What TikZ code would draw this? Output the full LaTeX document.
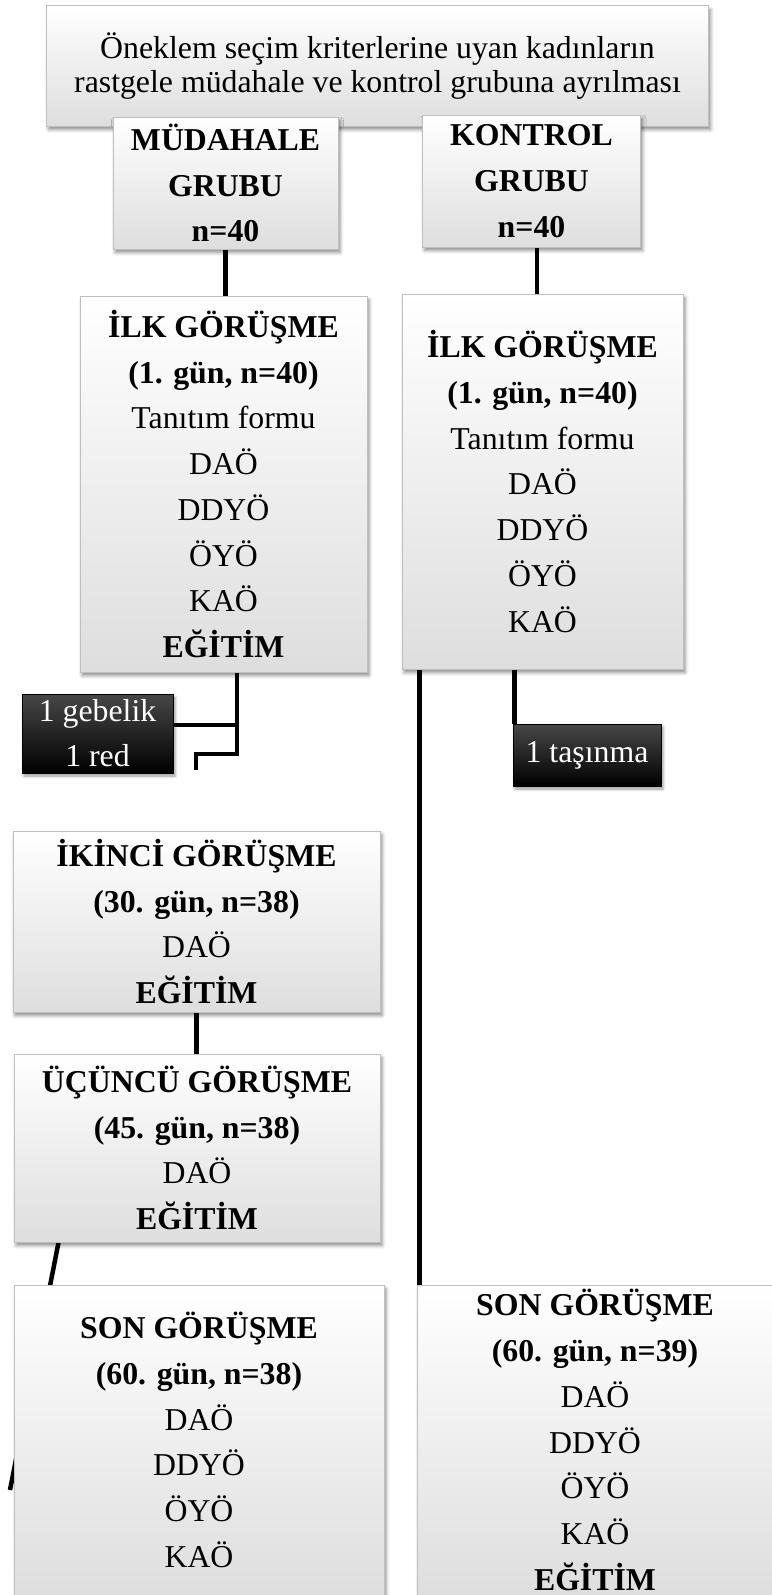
\documentclass[tikz,border=0pt]{standalone}
\usepackage{fontspec}
\setmainfont{Liberation Serif}
\usetikzlibrary{shadows.blur,backgrounds}

\tikzset{
  panel/.style={draw=gray!50, line width=1pt, top color=white, bottom color=gray!26,
    inner sep=0pt, align=center, font=\fontsize{31.8}{45.7}\selectfont,
    blur shadow={shadow xshift=2pt, shadow yshift=-3.5pt, shadow blur radius=3.5pt, shadow opacity=45}},
  darkbox/.style={draw=black, line width=0.6pt, top color=black!72, bottom color=black,
    text=white, inner sep=0pt, align=center, font=\fontsize{31.8}{45}\selectfont,
    blur shadow={shadow xshift=2pt, shadow yshift=-3pt, shadow blur radius=3pt, shadow opacity=40}},
  conn/.style={line width=4.5pt, black, line join=miter}
}

\begin{document}
\begin{tikzpicture}[x=1pt, y=-1pt]
\useasboundingbox (0,0) rectangle (771,1595);

% randomisation box and the two groups
\node[panel, minimum width=662pt, minimum height=120pt, font=\fontsize{31.8}{34}\selectfont]
  (top) at (377.5,66) {Öneklem seçim kriterlerine uyan kadınların\\rastgele müdahale ve kontrol grubuna ayrılması};
\node[panel, minimum width=225pt, minimum height=132pt] (mud) at (225.5,183)
  {\textbf{MÜDAHALE}\\\textbf{GRUBU}\\\textbf{n=40}};
\node[panel, minimum width=218pt, minimum height=132pt] (kon) at (531.5,181)
  {\textbf{KONTROL}\\\textbf{GRUBU}\\\textbf{n=40}};

% first interviews
\node[panel, minimum width=287pt, minimum height=376pt] (ilkL) at (223.5,484)
  {\textbf{İLK GÖRÜŞME}\\\textbf{(1. gün, n=40)}\\Tanıtım formu\\DAÖ\\DDYÖ\\ÖYÖ\\KAÖ\\\textbf{EĞİTİM}};
\node[panel, minimum width=281pt, minimum height=375pt] (ilkR) at (542.5,481.5)
  {\textbf{İLK GÖRÜŞME}\\\textbf{(1. gün, n=40)}\\Tanıtım formu\\DAÖ\\DDYÖ\\ÖYÖ\\KAÖ};

% drop-outs
\node[darkbox, minimum width=151pt, minimum height=79pt] (g1) at (97.5,733.5) {1 gebelik\\1 red};
\node[darkbox, minimum width=148pt, minimum height=62pt] (t1) at (587,755) {1 taşınma};

% follow-up interviews of the intervention group
\node[panel, minimum width=367pt, minimum height=181pt] (ikinci) at (196.5,921.5)
  {\textbf{İKİNCİ GÖRÜŞME}\\\textbf{(30. gün, n=38)}\\DAÖ\\\textbf{EĞİTİM}};
\node[panel, minimum width=366pt, minimum height=188pt] (ucuncu) at (197,1148)
  {\textbf{ÜÇÜNCÜ GÖRÜŞME}\\\textbf{(45. gün, n=38)}\\DAÖ\\\textbf{EĞİTİM}};

% final interviews
\node[panel, minimum width=370pt, minimum height=310pt] (sonL) at (199,1440)
  {\textbf{SON GÖRÜŞME}\\\textbf{(60. gün, n=38)}\\DAÖ\\DDYÖ\\ÖYÖ\\KAÖ};
\node[panel, minimum width=356pt, minimum height=310pt] (sonR) at (595,1440)
  {\textbf{SON GÖRÜŞME}\\\textbf{(60. gün, n=39)}\\DAÖ\\DDYÖ\\ÖYÖ\\KAÖ\\\textbf{EĞİTİM}};

% connectors, kept behind the boxes
\coordinate (kc) at ([xshift=5.5pt]kon.south);
\coordinate (jU) at (237,725);
\coordinate (jD) at (237,754);
\coordinate (stub) at (196,770);
\coordinate (tin) at ([xshift=2pt]t1.north west);
\coordinate (lv) at ([xshift=18pt]ilkR.south west);
\coordinate (sl) at ([xshift=45pt]ucuncu.south west);
\coordinate (tail) at (10,1490);

\begin{pgfonlayer}{background}
  \draw[conn] (mud.south) -- (mud.south |- ilkL.north);
  \draw[conn] (kc) -- (kc |- ilkR.north);
  \draw[conn] (ilkL.south -| jD) -- (jD) -| (stub);
  \draw[conn] (jU) -- (jU -| g1.east);
  \draw[conn] (tin |- ilkR.south) -- (tin);
  \draw[conn] (lv) -- (lv |- sonR.north);
  \draw[conn] (ikinci.south) -- (ikinci.south |- ucuncu.north);
  \draw[conn] (sl) -- (tail);
\end{pgfonlayer}
\end{tikzpicture}
\end{document}
